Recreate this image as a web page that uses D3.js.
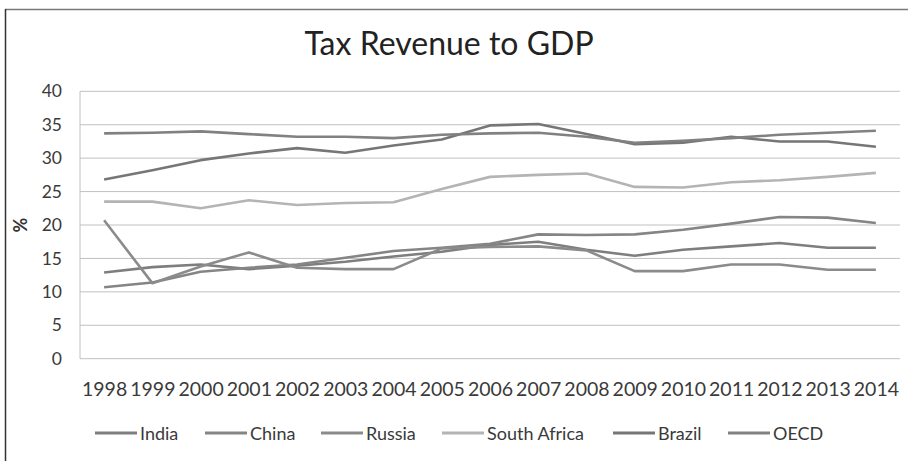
<!DOCTYPE html>
<html><head><meta charset="utf-8">
<script src="https://cdn.jsdelivr.net/npm/d3@7"></script>
<style>body{margin:0;background:#fff}svg{display:block}text{font-family:Lato,"Open Sans",sans-serif}</style>
</head><body>
<svg id="c" width="908" height="461"></svg>
<script>
const years = ["1998","1999","2000","2001","2002","2003","2004","2005","2006","2007","2008","2009","2010","2011","2012","2013","2014"];
const india = [12.9,13.7,14.1,13.4,13.9,14.5,15.3,16.0,17.0,17.5,16.3,15.4,16.3,16.8,17.3,16.6,16.6];
const china = [10.7,11.4,13.0,13.6,14.1,15.1,16.1,16.6,17.2,18.6,18.5,18.6,19.3,20.2,21.2,21.1,20.3];
const russia = [20.7,11.3,13.8,15.9,13.6,13.4,13.4,16.5,16.7,16.8,16.2,13.1,13.1,14.1,14.1,13.3,13.3];
const southAfrica = [23.5,23.5,22.5,23.7,23.0,23.3,23.4,25.4,27.2,27.5,27.7,25.7,25.6,26.4,26.7,27.2,27.8];
const brazil = [26.8,28.2,29.7,30.7,31.5,30.8,31.9,32.8,34.9,35.1,33.6,32.1,32.3,33.2,32.5,32.5,31.7];
const oecd = [33.7,33.8,34.0,33.6,33.2,33.2,33.0,33.5,33.7,33.8,33.2,32.3,32.6,33.0,33.5,33.8,34.1];
const yTicks = [0,5,10,15,20,25,30,35,40];
const seriesNames = ["India","China","Russia","South Africa","Brazil","OECD"];
const seriesValues = [india, china, russia, southAfrica, brazil, oecd];
const seriesColors = ["#7e7e7e","#858585","#8b8b8b","#b4b4b4","#767676","#818181"];

const svg = d3.select("#c");
const L = 80, R = 900, T = 91.3, B = 358.7;

// outer frame (top and left only visible)
svg.append("line").attr("x1",5).attr("x2",908).attr("y1",9.5).attr("y2",9.5).attr("stroke","#7a7a7a").attr("stroke-width",1.5);
svg.append("line").attr("x1",5.5).attr("x2",5.5).attr("y1",9).attr("y2",461).attr("stroke","#333").attr("stroke-width",1.5);

svg.append("text").attr("x",449).attr("y",55).attr("text-anchor","middle")
  .attr("font-size",32).attr("fill","#222").text("Tax Revenue to GDP");

const x = d3.scalePoint().domain(years).range([L, R]).padding(0.5);
const y = d3.scaleLinear().domain([0,40]).range([B, T]);

// gridlines
svg.append("g").selectAll("line").data(yTicks).join("line")
  .attr("x1",L).attr("x2",R).attr("y1",d=>y(d)).attr("y2",d=>y(d))
  .attr("stroke","#c0c0c0").attr("stroke-width",1);
svg.append("line").attr("x1",L).attr("x2",L).attr("y1",T).attr("y2",B).attr("stroke","#c0c0c0");

// y axis
const ya = svg.append("g").attr("transform",`translate(${L},0)`)
  .call(d3.axisLeft(y).tickValues(yTicks).tickSize(0).tickPadding(18));
ya.select(".domain").remove();
ya.selectAll("text").attr("font-size",17.5).attr("fill","#3a3a3a").attr("font-family","Lato,sans-serif");

// x axis
const xa = svg.append("g").attr("transform",`translate(0,${B})`)
  .call(d3.axisBottom(x).tickSize(0).tickPadding(23));
xa.select(".domain").remove();
xa.selectAll("text").attr("font-size",19.5).attr("fill","#3a3a3a").attr("font-family","Lato,sans-serif");

svg.append("text").attr("transform","translate(27,225) rotate(-90)").attr("text-anchor","middle")
  .attr("font-size",18).attr("font-weight","bold").attr("fill","#333").text("%");

const line = d3.line().x((d,i)=>x(years[i])).y(d=>y(d));
svg.append("g").selectAll("path").data(seriesValues).join("path")
  .attr("d",d=>line(d)).attr("fill","none")
  .attr("stroke",(d,i)=>seriesColors[i]).attr("stroke-width",2.6).attr("stroke-linejoin","round");

// legend
const legX = [95,205,321,442,613,728];
const lg = svg.append("g").selectAll("g").data(seriesNames).join("g")
  .attr("transform",(d,i)=>`translate(${legX[i]},433)`);
lg.append("line").attr("x1",0).attr("x2",42).attr("stroke",(d,i)=>seriesColors[i]).attr("stroke-width",2.8);
lg.append("text").attr("x",45).attr("y",6.5).attr("font-size",18).attr("fill","#3a3a3a").text(d=>d);
</script>
</body></html>
